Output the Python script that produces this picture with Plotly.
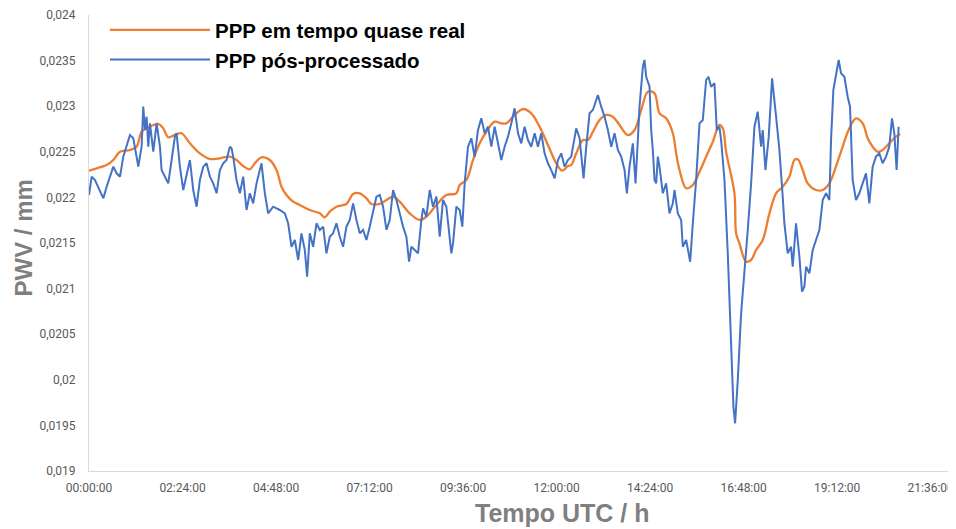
import plotly.graph_objects as go

# Time in hours (UTC), PWV values
blue_t = [0.000, 0.068, 0.154, 0.239, 0.368, 0.453, 0.538, 0.624, 0.709, 0.795,
          0.880, 0.966, 1.051, 1.137, 1.179, 1.265, 1.350, 1.393, 1.436, 1.479,
          1.521, 1.564, 1.650, 1.735, 1.821, 1.863, 1.949, 2.034, 2.120, 2.205,
          2.248, 2.333, 2.419, 2.504, 2.590, 2.675, 2.761, 2.846, 2.932, 3.017,
          3.103, 3.188, 3.274, 3.359, 3.444, 3.530, 3.615, 3.658, 3.701, 3.786,
          3.872, 3.957, 4.043, 4.128, 4.214, 4.299, 4.427, 4.513, 4.598, 4.726,
          4.897, 5.026, 5.111, 5.197, 5.282, 5.368, 5.453, 5.538, 5.598, 5.667,
          5.752, 5.838, 5.923, 6.009, 6.094, 6.179, 6.265, 6.350, 6.436, 6.521,
          6.607, 6.692, 6.778, 6.863, 6.949, 7.034, 7.120, 7.205, 7.291, 7.376, 7.462,
          7.547, 7.633, 7.718, 7.803, 7.889, 7.974, 8.060, 8.145, 8.214, 8.274,
          8.359, 8.444, 8.530, 8.573, 8.658, 8.744, 8.829, 8.915, 9.000, 9.085,
          9.171, 9.256, 9.299, 9.342, 9.427, 9.513, 9.581, 9.641, 9.726, 9.812,
          9.897, 9.983, 10.068, 10.154, 10.239, 10.325, 10.410, 10.496, 10.581, 10.667,
          10.752, 10.838, 10.923, 11.009, 11.094, 11.179, 11.265, 11.350, 11.436, 11.521,
          11.607, 11.692, 11.778, 11.863, 11.949, 12.034, 12.120, 12.205, 12.291, 12.376,
          12.504, 12.590, 12.692, 12.761, 12.846, 12.932, 13.060, 13.145, 13.231, 13.316,
          13.402, 13.487, 13.573, 13.658, 13.744, 13.803, 13.872, 13.957, 14.026, 14.085,
          14.128, 14.214, 14.256, 14.299, 14.385, 14.427, 14.470, 14.513, 14.556, 14.598,
          14.641, 14.726, 14.812, 14.897, 14.983, 15.026, 15.111, 15.197, 15.239, 15.325,
          15.368, 15.428, 15.496, 15.581, 15.667, 15.752, 15.838, 15.897, 15.966, 16.051,
          16.111, 16.179, 16.222, 16.308, 16.393, 16.479, 16.538, 16.581, 16.650, 16.735,
          16.821, 16.906, 16.992, 17.077, 17.162, 17.248, 17.290, 17.359, 17.444, 17.530,
          17.633, 17.718, 17.803, 17.846, 17.932, 18.017, 18.060, 18.145, 18.231, 18.299,
          18.359, 18.402, 18.487, 18.573, 18.658, 18.744, 18.829, 18.915, 19.000, 19.043,
          19.103, 19.188, 19.239, 19.299, 19.385, 19.470, 19.530, 19.598, 19.684, 19.769,
          19.855, 19.940, 20.026, 20.111, 20.197, 20.282, 20.368, 20.453, 20.538, 20.607,
          20.667, 20.726, 20.778]

blue_v = [0.022026, 0.022227, 0.022191, 0.022117, 0.021990, 0.022117, 0.022227, 0.022337, 0.022264, 0.022227,
          0.022447, 0.022575, 0.022684, 0.022648, 0.022556, 0.022337, 0.022556, 0.022995, 0.022739, 0.022885,
          0.022556, 0.022812, 0.022501, 0.022812, 0.022556, 0.022300, 0.022227, 0.022154, 0.022410, 0.022666,
          0.022703, 0.022337, 0.022081, 0.022264, 0.022410, 0.022081, 0.021898, 0.022191, 0.022337, 0.022374,
          0.022227, 0.022154, 0.022045, 0.022300, 0.022374, 0.022410, 0.022556, 0.022538, 0.022447, 0.022191,
          0.022045, 0.022227, 0.021862, 0.022045, 0.021935, 0.022154, 0.022374, 0.022045, 0.021825, 0.021898,
          0.021862, 0.021825, 0.021716, 0.021459, 0.021533, 0.021314, 0.021606, 0.021423, 0.021131, 0.021606,
          0.021459, 0.021716, 0.021643, 0.021679, 0.021387, 0.021569, 0.021606, 0.021716, 0.021569, 0.021459,
          0.021679, 0.021752, 0.021935, 0.021752, 0.021606, 0.021643, 0.021533, 0.021679, 0.021862, 0.022008, 0.022026,
          0.021898, 0.021643, 0.021752, 0.022081, 0.021971, 0.021825, 0.021679, 0.021569, 0.021295, 0.021459,
          0.021423, 0.021387, 0.021752, 0.021880, 0.021789, 0.022081, 0.021898, 0.022008, 0.021569, 0.021971,
          0.021898, 0.021569, 0.021387, 0.021496, 0.021898, 0.021862, 0.021679, 0.022154, 0.022556, 0.022648,
          0.022447, 0.022739, 0.022867, 0.022703, 0.022775, 0.022556, 0.022775, 0.022593, 0.022410, 0.022556,
          0.022666, 0.022812, 0.022977, 0.022703, 0.022593, 0.022775, 0.022629, 0.022556, 0.022703, 0.022556,
          0.022703, 0.022483, 0.022374, 0.022300, 0.022209, 0.022410, 0.022483, 0.022337, 0.022410, 0.022447,
          0.022757, 0.022648, 0.022209, 0.022556, 0.022922, 0.022958, 0.023123, 0.022995, 0.022885, 0.022739,
          0.022556, 0.022703, 0.022520, 0.022447, 0.022300, 0.022045, 0.022337, 0.022593, 0.022154, 0.022629,
          0.022995, 0.023433, 0.023507, 0.023323, 0.023214, 0.022739, 0.022520, 0.022191, 0.022154, 0.022447,
          0.022337, 0.022045, 0.022154, 0.021825, 0.021935, 0.022081, 0.021825, 0.021752, 0.021459, 0.021533,
          0.021423, 0.021295, 0.021716, 0.022191, 0.022812, 0.022849, 0.023287, 0.023323, 0.023214, 0.023251,
          0.022739, 0.022775, 0.022629, 0.022191, 0.021387, 0.020436, 0.019705, 0.019523, 0.019998, 0.020729,
          0.021168, 0.021643, 0.022154, 0.022775, 0.022940, 0.022556, 0.022739, 0.022300, 0.022666, 0.023306,
          0.022885, 0.022520, 0.022008, 0.021716, 0.021387, 0.021459, 0.021240, 0.021716, 0.021350, 0.020966,
          0.021021, 0.021240, 0.021168, 0.021423, 0.021533, 0.021643, 0.021971, 0.022045, 0.021971, 0.022629,
          0.023178, 0.023397, 0.023507, 0.023361, 0.023323, 0.023104, 0.022995, 0.022191, 0.021971, 0.022045,
          0.022154, 0.022264, 0.021935, 0.022337, 0.022447, 0.022483, 0.022374, 0.022447, 0.022556, 0.022867,
          0.022703, 0.022300, 0.022775]

orange_t = [0.000, 0.197, 0.453, 0.624, 0.795, 1.051, 1.222, 1.350, 1.479, 1.778,
            1.906, 2.034, 2.248, 2.376, 2.590, 2.846, 3.103, 3.359, 3.615, 3.786,
            3.957, 4.128, 4.256, 4.427, 4.641, 4.812, 4.940, 5.068, 5.239, 5.410,
            5.667, 5.923, 6.051, 6.179, 6.350, 6.607, 6.778, 6.949, 7.120, 7.248, 7.462,
            7.633, 7.803, 7.974, 8.231, 8.487, 8.658, 8.915, 9.171, 9.427,
            9.513, 9.684, 9.855, 10.026, 10.197, 10.410, 10.581, 10.709, 10.923, 11.137,
            11.350, 11.564, 11.778, 11.992, 12.145, 12.291, 12.376, 12.504, 12.675, 12.803,
            12.932, 13.103, 13.274, 13.444, 13.615, 13.829, 14.000, 14.171, 14.342, 14.513,
            14.641, 14.812, 14.983, 15.068, 15.154,
            15.325, 15.496, 15.667, 15.838, 16.009, 16.179, 16.265, 16.350, 16.564, 16.607,
            16.692, 16.863, 16.992, 17.120, 17.290, 17.462, 17.633, 17.803, 17.974, 18.103,
            18.188, 18.316, 18.444, 18.658, 18.829, 19.000, 19.256, 19.513, 19.684, 19.855,
            19.983, 20.111, 20.239, 20.368, 20.538, 20.709, 20.820]

orange_v = [0.022293, 0.022319, 0.022355, 0.022410, 0.022501, 0.022520, 0.022556, 0.022720, 0.022757, 0.022805,
            0.022757, 0.022659, 0.022695, 0.022703, 0.022593, 0.022483, 0.022421, 0.022429, 0.022447, 0.022410,
            0.022344, 0.022308, 0.022374, 0.022440, 0.022410, 0.022300, 0.022117, 0.022026, 0.021953, 0.021917,
            0.021862, 0.021825, 0.021782, 0.021843, 0.021898, 0.021928, 0.022037, 0.022045, 0.021990, 0.021928, 0.021928,
            0.021971, 0.022008, 0.021953, 0.021825, 0.021752, 0.021789, 0.021917, 0.022026, 0.022045,
            0.022136, 0.022191, 0.022410, 0.022593, 0.022720, 0.022830, 0.022812, 0.022812, 0.022904, 0.022969,
            0.022922, 0.022775, 0.022575, 0.022374, 0.022293, 0.022344, 0.022355, 0.022483, 0.022629, 0.022629,
            0.022720, 0.022849, 0.022904, 0.022885, 0.022794, 0.022684, 0.022739, 0.022958, 0.023159, 0.023141,
            0.022922, 0.022867, 0.022703, 0.022483, 0.022300,
            0.022100, 0.022136, 0.022282, 0.022447, 0.022611, 0.022794, 0.022757, 0.022501, 0.022045, 0.021606,
            0.021496, 0.021295, 0.021314, 0.021423, 0.021533, 0.021825, 0.022045, 0.022117, 0.022227, 0.022410,
            0.022418, 0.022300, 0.022154, 0.022081, 0.022081, 0.022154, 0.022447, 0.022757, 0.022867, 0.022812,
            0.022648, 0.022556, 0.022501, 0.022520, 0.022593, 0.022666, 0.022695]

x_tick_vals = [0, 2.4, 4.8, 7.2, 9.6, 12.0, 14.4, 16.8, 19.2, 21.6]
x_tick_text = ["00:00:00", "02:24:00", "04:48:00", "07:12:00", "09:36:00",
               "12:00:00", "14:24:00", "16:48:00", "19:12:00", "21:36:00"]
y_tick_vals = [0.019, 0.0195, 0.020, 0.0205, 0.021, 0.0215, 0.022, 0.0225, 0.023, 0.0235, 0.024]
y_tick_text = ["0,019", "0,0195", "0,02", "0,0205", "0,021", "0,0215",
               "0,022", "0,0225", "0,023", "0,0235", "0,024"]

fig = go.Figure()
fig.add_trace(go.Scatter(x=orange_t, y=orange_v, mode="lines", name="<b>PPP em tempo quase real</b>",
                         line=dict(color="#ED7D31", width=2.3, shape="spline", smoothing=1.0)))
fig.add_trace(go.Scatter(x=blue_t, y=blue_v, mode="lines", name="<b>PPP pós-processado</b>",
                         line=dict(color="#4472C4", width=2)))

tick_font = dict(family="Liberation Sans Narrow, Roboto, Arial", size=12, color="#595959")
title_font_x = dict(family="Liberation Sans, Arial", size=25, color="#7f7f7f")
title_font_y = dict(family="Liberation Sans, Arial", size=24, color="#7f7f7f")

# the page body adds an 8 px offset, so the figure is 8 px smaller each way
fig.update_layout(
    width=948, height=521,
    margin=dict(l=81, r=0, t=7, b=58, autoexpand=False),
    paper_bgcolor="white", plot_bgcolor="white",
    showlegend=True,
    legend=dict(x=0.0184, y=1.0107, xanchor="left", yanchor="top",
                font=dict(family="Liberation Sans, Arial", size=20.5, color="black"),
                bgcolor="rgba(0,0,0,0)", itemwidth=100, tracegroupgap=0),
    xaxis=dict(range=[0, 22.25], tickvals=x_tick_vals, ticktext=x_tick_text,
               showgrid=False, zeroline=False, showline=True, linecolor="#d9d9d9", linewidth=1,
               ticks="", tickfont=tick_font, automargin=False, ticklabelstandoff=6),
    yaxis=dict(range=[0.019, 0.024], tickvals=y_tick_vals, ticktext=y_tick_text,
               showgrid=False, zeroline=False, showline=True, linecolor="#d9d9d9", linewidth=1,
               ticks="", tickfont=tick_font, automargin=False, ticklabelstandoff=10),
    annotations=[
        dict(text="<b>Tempo UTC / h</b>", xref="paper", yref="paper", x=0.5467, y=-0.092,
             xanchor="center", yanchor="middle", showarrow=False, font=title_font_x),
        dict(text="<b>PWV / mm</b>", xref="paper", yref="paper", x=-0.0755, y=0.511,
             xanchor="center", yanchor="middle", textangle=-90, showarrow=False, font=title_font_y),
    ],
)

fig.write_html("out.html")
